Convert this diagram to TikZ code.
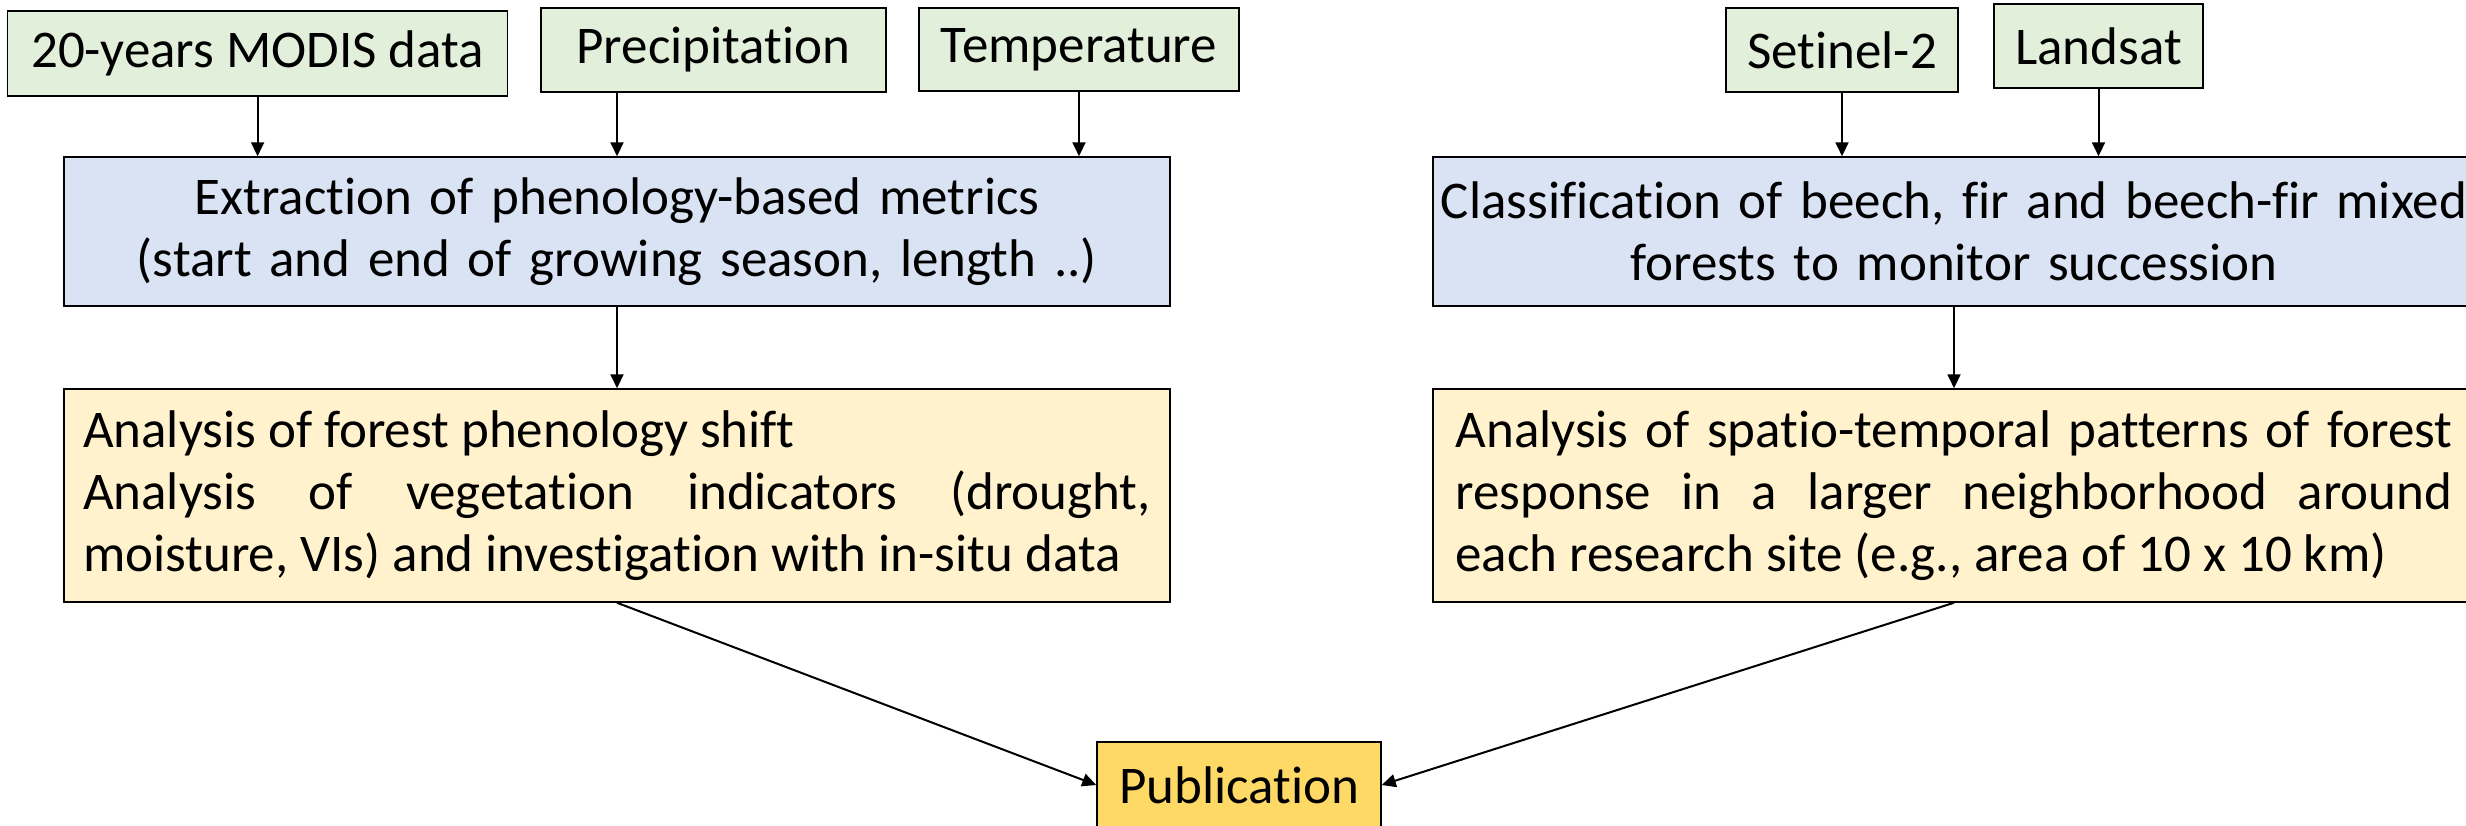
\documentclass[tikz,border=0pt]{standalone}
\usepackage{fontspec}
\setmainfont{Carlito}[Ligatures={NoCommon}]
\usetikzlibrary{positioning,calc,arrows.meta}
\usepackage{xcolor}
\definecolor{datagreen}{HTML}{E2EFDA}
\definecolor{stepblue}{HTML}{DAE3F3}
\definecolor{resultyellow}{HTML}{FFF2CC}
\definecolor{pubgold}{HTML}{FFD966}
\tikzset{
source/.style={
  draw, fill=datagreen, line width=0.75pt,
  font=\fontsize{26.5}{30}\selectfont,
  inner sep=0pt
  },
task/.style={
  draw, fill=stepblue, line width=0.75pt,
  font=\fontsize{26.5}{31}\selectfont,
  align=center, inner xsep=3pt,
  minimum height=74.5pt
  },
result/.style={
  draw, fill=resultyellow, line width=0.75pt,
  font=\fontsize{26.5}{31}\selectfont,
  align=justify,
  minimum height=106.5pt
  },
link/.style={->, line width=1pt},
>={Triangle[length=7pt,width=6.5pt]}
}

\begin{document}
\begin{tikzpicture}[x=0.5pt, y=-0.5pt]
    \clip (0,0) rectangle (2466,825);
    % input data
    \node [source, minimum width=250pt, minimum height=42.5pt] (modis) at (257.6,53.5) {20-years MODIS data};
    \node [source, minimum width=172.5pt, minimum height=42pt] (precip) at (713.3,50) {Precipitation};
    \node [source, minimum width=160pt, minimum height=41.5pt] (temp) at (1079,49.5) {Temperature};
    \node [source, minimum width=116pt, minimum height=42pt] (setinel) at (1842,50) {Setinel-2};
    \node [source, minimum width=104.5pt, minimum height=42pt] (landsat) at (2098.5,46) {Landsat};

    % processing
    \node [task, text width=547pt] (extract) at (617,231.5)
        {Extraction of phenology-based metrics\\(start and end of growing season, length ..)};
    \node [task, text width=515pt] (classif) at (1954,231.5)
        {Classification of beech, fir and beech-fir mixed\\forests to monitor succession};

    % analysis
    \node [result, text width=534pt, inner xsep=9.5pt] (phen) at (617,495.5)
        {Analysis of forest phenology shift\\
         Analysis of vegetation indicators (drought,\linebreak
         moisture, VIs) and investigation with in-situ data};
    \node [result, text width=498.5pt, inner xsep=11.25pt] (spatial) at (1954,495.5)
        {Analysis of spatio-temporal patterns of forest\linebreak
         response in a larger neighborhood around\linebreak
         each research site (e.g., area of 10 x 10 km)};

    \node [draw, fill=pubgold, line width=0.75pt, font=\fontsize{26.5}{31}\selectfont,
        minimum width=142pt, minimum height=43pt] (publ) at (1239,785) {Publication};

    \draw [link] (modis) -- (modis |- extract.north);
    \draw [link] (precip.south -| extract.north) -- (extract.north);
    \draw [link] (temp) -- (temp |- extract.north);
    \draw [link] (setinel) -- (setinel |- classif.north);
    \draw [link] (landsat) -- (landsat |- classif.north);
    \draw [link] (extract) -- (phen);
    \draw [link] (classif) -- (spatial);
    \draw [link] (phen.south) -- (publ.west);
    \draw [link] (spatial.south) -- (publ.east);
\end{tikzpicture}
\end{document}
